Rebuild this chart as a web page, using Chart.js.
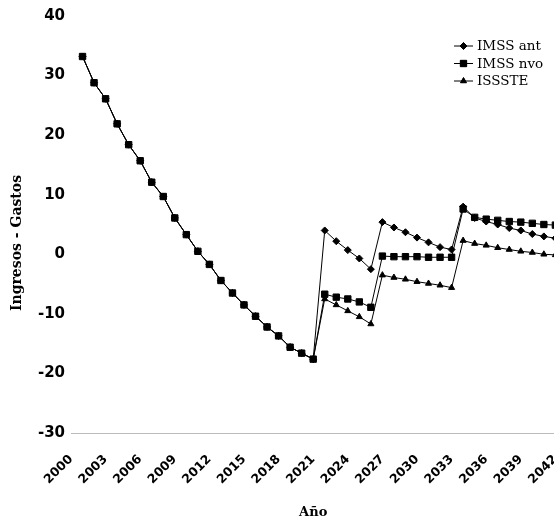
<!DOCTYPE html>
<html>
<head>
<meta charset="utf-8">
<script src="https://cdn.jsdelivr.net/npm/chart.js@4/dist/chart.umd.min.js"></script>
<style>
html,body{margin:0;padding:0;background:#fff;overflow:hidden}
#wrap{width:554px;height:523px;position:relative;overflow:hidden}
canvas{display:block}
</style>
</head>
<body>
<div id="wrap"><canvas id="c" width="585" height="523" style="width:585px;height:523px"></canvas></div>
<script>
// ---- data ----
const years = [];
for (let y = 2000; y <= 2042; y++) years.push(String(y));

// common path 2000 (no data) + 2001..2021
const common = [null, 33.2, 28.8, 26.1, 21.9, 18.4, 15.7, 12.1, 9.7, 6.1, 3.3, 0.5,
  -1.7, -4.4, -6.5, -8.5, -10.4, -12.2, -13.7, -15.6, -16.6, -17.6];

// 2022..2042
const imssAntTail = [4.0, 2.2, 0.7, -0.7, -2.5, 5.4, 4.5, 3.7, 2.8, 2.0, 1.2, 0.8,
  8.0, 6.1, 5.5, 5.0, 4.4, 4.0, 3.4, 3.0, 2.7];
const imssNvoTail = [-6.7, -7.2, -7.5, -8.0, -8.9, -0.3, -0.4, -0.4, -0.4, -0.5, -0.5, -0.5,
  7.6, 6.2, 5.9, 5.7, 5.5, 5.4, 5.2, 5.0, 4.9];
const issteTail = [-7.5, -8.5, -9.5, -10.5, -11.7, -3.5, -3.9, -4.2, -4.6, -4.9, -5.2, -5.6,
  2.3, 1.8, 1.5, 1.1, 0.8, 0.5, 0.3, 0.0, -0.1];

const imssAnt = common.concat(imssAntTail);
const imssNvo = common.concat(imssNvoTail);
const issste = common.concat(issteTail);

const seriesNames = ['IMSS ant', 'IMSS nvo', 'ISSSTE'];
const yTicks = [-30, -20, -10, 0, 10, 20, 30, 40];
const yTitle = 'Ingresos - Gastos';

// ---- legend + y title plugin ----
const legendPlugin = {
  id: 'insideLegend',
  afterDraw(chart) {
    const ctx = chart.ctx;
    const x0 = 454, x1 = 473, tx = 477;
    const ys = [46, 63.5, 81];
    ctx.save();
    chart.data.datasets.forEach((ds, i) => {
      const y = ys[i];
      ctx.strokeStyle = '#000';
      ctx.lineWidth = 1;
      ctx.beginPath();
      ctx.moveTo(x0, y); ctx.lineTo(x1, y);
      ctx.stroke();
      ctx.fillStyle = '#000';
      Chart.helpers.drawPoint(ctx, {pointStyle: ds.pointStyle, radius: ds.pointRadius, borderWidth: 1, rotation: 0}, (x0 + x1) / 2, y);
      ctx.fill();
      ctx.fillStyle = '#000';
      ctx.font = '13.5px "DejaVu Serif"';
      ctx.textBaseline = 'middle';
      ctx.textAlign = 'left';
      ctx.fillText(ds.label, tx, y + 0.5);
    });
    // y axis title
    ctx.translate(17, 243);
    ctx.rotate(-Math.PI / 2);
    ctx.font = 'bold 14px "DejaVu Serif"';
    ctx.textAlign = 'center';
    ctx.textBaseline = 'middle';
    ctx.fillStyle = '#000';
    ctx.fillText(yTitle, 0, 0);
    ctx.restore();
  }
};

const mk = (label, data, style, r) => ({
  label, data,
  borderColor: '#000', backgroundColor: '#000',
  borderWidth: 1,
  pointStyle: style, pointRadius: r, pointHoverRadius: r,
  pointBackgroundColor: '#000', pointBorderColor: '#000', pointBorderWidth: 1,
  tension: 0, spanGaps: false
});

new Chart(document.getElementById('c'), {
  type: 'line',
  data: {
    labels: years,
    datasets: [
      mk(seriesNames[0], imssAnt, 'rectRot', 3.5),
      mk(seriesNames[1], imssNvo, 'rect', 4.5),
      mk(seriesNames[2], issste, 'triangle', 3.5)
    ]
  },
  options: {
    responsive: false,
    animation: false,
    events: [],
    layout: { padding: { top: 16, right: 0, left: 0, bottom: 0 } },
    plugins: { legend: { display: false }, tooltip: { enabled: false } },
    scales: {
      x: {
        type: 'category',
        offset: false,
        grid: { display: false, drawTicks: false },
        border: { display: true, color: '#bbb', dash: [2, 4], width: 1 },
        ticks: {
          autoSkip: false,
          minRotation: 45, maxRotation: 45,
          padding: 19,
          color: '#000',
          font: { family: 'DejaVu Sans', weight: 'bold', size: 12.5 },
          callback: function (v, i) { const y = Number(years[i]); return (y - 2000) % 3 === 0 ? years[i] : ''; }
        },
        title: {
          display: true, text: 'Año', color: '#000',
          font: { family: 'DejaVu Serif', weight: 'bold', size: 13 },
          padding: { top: 0, bottom: 3 }
        },
        afterFit: s => { s.height = 90; }
      },
      y: {
        min: -30, max: 40,
        grid: { display: false, drawTicks: false },
        border: { display: false },
        afterBuildTicks: s => { s.ticks = yTicks.map(v => ({ value: v })); },
        ticks: {
          padding: 6, color: '#000',
          font: { family: 'DejaVu Sans', weight: 'bold', size: 15 }
        },
        title: { display: false },
        afterFit: s => { s.width = 71; }
      }
    }
  },
  plugins: [legendPlugin]
});
</script>
</body>
</html>
